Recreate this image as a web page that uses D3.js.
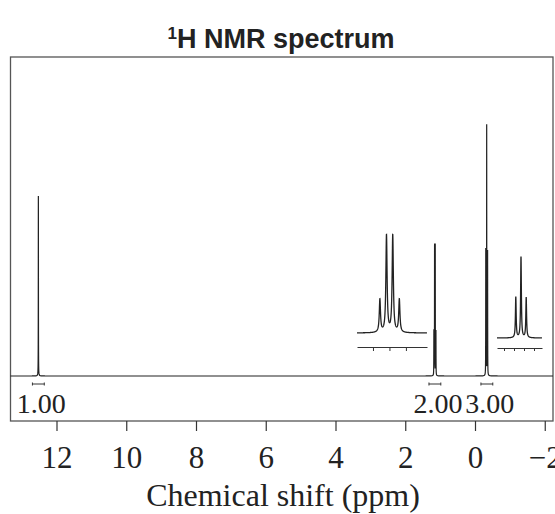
<!DOCTYPE html>
<html>
<head>
<meta charset="utf-8">
<script src="https://cdn.jsdelivr.net/npm/d3@7"></script>
<style>
  body { margin: 0; background: #fff; }
  svg text { fill: #222; }
</style>
</head>
<body>
<script>
// peak data (ppm, height)
var singletPpm = [12.52];
var singletHeight = [1.80];
var quartetPpm = [1.179, 1.159, 1.140, 1.120];
var quartetHeight = [0.44, 1.30, 1.30, 0.44];
var tripletPpm = [-0.309, -0.335, -0.361];
var tripletHeight = [1.26, 2.50, 1.24];
var lineWidth = 0.0022; // half width at half height, ppm

// integrals
var integralFrom = [12.69, 1.32, -0.17];
var integralTo = [12.35, 0.98, -0.51];
var integralValue = ["1.00", "2.00", "3.00"];

// axis ticks
var xTicks = [12, 10, 8, 6, 4, 2, 0, -2];
var quartetTicks = [1.20, 1.15, 1.10];
var tripletTicks = [-0.25, -0.30, -0.35, -0.40];

var width = 555, height = 514;
var frame = {left: 10.5, right: 553, top: 57, bottom: 421};
var baseY = 376;

var svg = d3.select("body").append("svg")
    .attr("width", width)
    .attr("height", height);

// all the peaks in one list
var peaks = [];
singletPpm.forEach(function(p, i) { peaks.push({ppm: p, h: singletHeight[i]}); });
quartetPpm.forEach(function(p, i) { peaks.push({ppm: p, h: quartetHeight[i]}); });
tripletPpm.forEach(function(p, i) { peaks.push({ppm: p, h: tripletHeight[i]}); });

// lorentzian line shape
function intensity(p) {
    var s = 0;
    peaks.forEach(function(pk) {
        var u = (p - pk.ppm) / lineWidth;
        s += pk.h / (1 + u * u);
    });
    return s;
}

// scales (12 ppm sits at 56.5 px, 0 ppm at 475 px)
var x = d3.scaleLinear().domain([12, 0]).range([56.5, 475]);
x.domain([x.invert(frame.left), x.invert(frame.right)]).range([frame.left, frame.right]);

var y = d3.scaleLinear().domain([0, 2.5]).range([baseY, 126]);

// sample points: coarse grid plus dense around each line
var pts = d3.range(x.domain()[0], x.domain()[1], -0.01);
peaks.forEach(function(pk) {
    pts = pts.concat(d3.range(pk.ppm + 0.05, pk.ppm - 0.05, -0.0004));
});
pts.push(x.domain()[1]);
pts.sort(function(a, b) { return b - a; });

var line = d3.line()
    .x(function(p) { return x(p); })
    .y(function(p) { return y(intensity(p)); });

// frame
svg.append("rect")
    .attr("x", frame.left)
    .attr("y", frame.top)
    .attr("width", frame.right - frame.left)
    .attr("height", frame.bottom - frame.top)
    .attr("fill", "none")
    .attr("stroke", "#555")
    .attr("stroke-width", 1.3);

svg.append("path")
    .attr("d", line(pts))
    .attr("fill", "none")
    .attr("stroke", "#222")
    .attr("stroke-width", 1.2);

// insets
function inset(tickList, xRange, domain, yBase, yTop, hMax, axisY, tickLen) {
    var xs = d3.scaleLinear().domain(domain).range(xRange);
    var ys = d3.scaleLinear().domain([0, hMax]).range([yBase, yTop]);
    var p = d3.range(domain[0], domain[1], -0.0002);
    svg.append("path")
        .attr("d", d3.line().x(function(d) { return xs(d); }).y(function(d) { return ys(intensity(d)); })(p))
        .attr("fill", "none")
        .attr("stroke", "#222")
        .attr("stroke-width", 1.3);
    var ax = svg.append("g")
        .attr("transform", "translate(0," + axisY + ")")
        .call(d3.axisBottom(xs).tickValues(tickList).tickSize(tickLen).tickSizeOuter(0).tickFormat(""));
    ax.select(".domain").attr("stroke", "#333").attr("stroke-width", 1.2);
    ax.selectAll(".tick line").attr("stroke", "#333");
}

inset(quartetTicks, [357, 427], [1.2485, 1.036], 333, 236, 1.30, 347, 4);
inset(tripletTicks, [497, 542], [-0.215, -0.44], 338, 257, 2.50, 348, 3);

// integrals
integralValue.forEach(function(v, i) {
    var x0 = x(integralFrom[i]), x1 = x(integralTo[i]);
    var g = svg.append("g").attr("stroke", "#333").attr("stroke-width", 1);
    g.append("line").attr("x1", x0).attr("x2", x1).attr("y1", 384).attr("y2", 384);
    g.append("line").attr("x1", x0).attr("x2", x0).attr("y1", 382.5).attr("y2", 385.5);
    g.append("line").attr("x1", x1).attr("x2", x1).attr("y1", 382.5).attr("y2", 385.5);
    svg.append("text")
        .attr("x", (x0 + x1) / 2 + 3)
        .attr("y", 413)
        .attr("text-anchor", "middle")
        .style("font-family", "Liberation Serif")
        .style("font-size", "28px")
        .text(v);
});

// bottom axis
var xAxis = svg.append("g")
    .attr("transform", "translate(0," + frame.bottom + ")")
    .call(d3.axisBottom(x).tickValues(xTicks).tickSize(10).tickSizeOuter(0).tickPadding(15));
xAxis.select(".domain").remove();
xAxis.selectAll(".tick line").attr("stroke", "#333").attr("stroke-width", 1.2);
xAxis.selectAll(".tick text")
    .style("font-family", "Liberation Serif")
    .style("font-size", "31px")
    .attr("fill", "#222");

svg.append("text")
    .attr("x", 283)
    .attr("y", 506)
    .attr("text-anchor", "middle")
    .style("font-family", "Liberation Serif")
    .style("font-size", "32px")
    .text("Chemical shift (ppm)");

// title
var title = svg.append("text")
    .attr("x", 281)
    .attr("y", 48)
    .attr("text-anchor", "middle")
    .style("font-family", "Liberation Sans")
    .style("font-weight", "bold")
    .style("font-size", "27px");
title.append("tspan").attr("dy", -9).style("font-size", "17px").text("1");
title.append("tspan").attr("dy", 9).text("H NMR spectrum");
</script>
</body>
</html>
